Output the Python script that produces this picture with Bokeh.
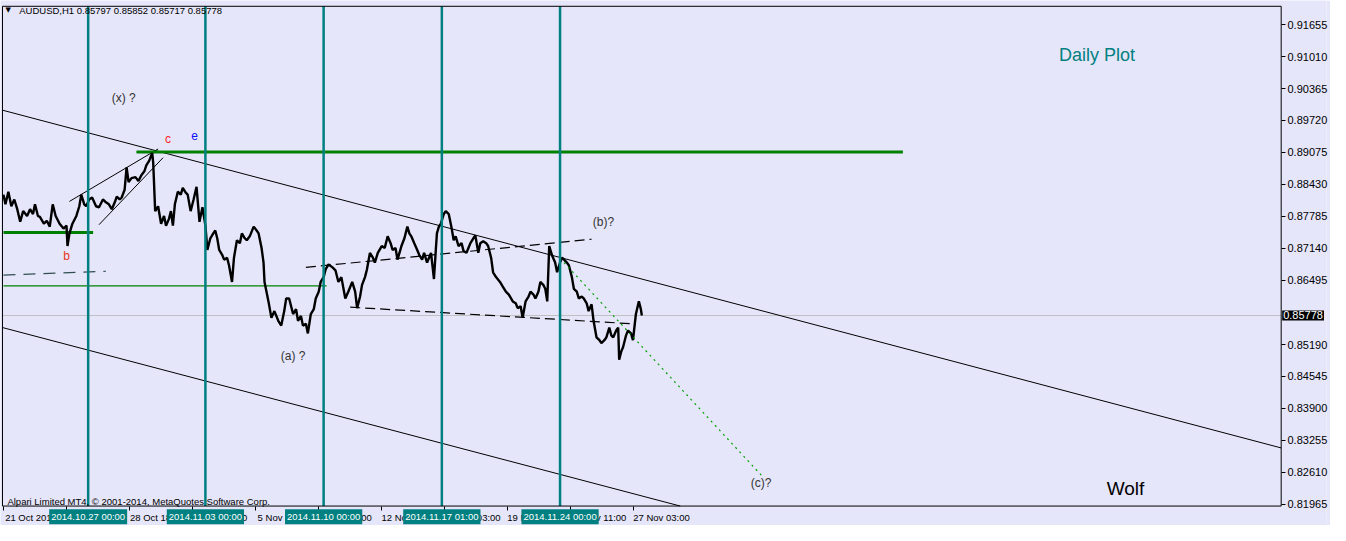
from bokeh.plotting import figure
from bokeh.models import Range1d, FixedTicker, Label, NumeralTickFormatter
from bokeh.embed import file_html
from bokeh.resources import INLINE

# ---------------- data ----------------
bars = [0, 2, 5, 8, 11, 14, 17, 20, 24, 27, 30, 32, 35, 37, 41, 44, 47, 50, 53, 57,
        61, 64, 65, 67, 70, 74, 77, 79, 82, 84, 87, 90, 94, 97, 101, 104, 107, 110, 113, 115,
        118, 120, 123, 125, 127, 130, 134, 137, 140, 143, 145, 148, 151, 152, 154, 157, 160, 163, 165, 168,
        170, 172, 174, 177, 180, 182, 185, 187, 190, 193, 196, 199, 202, 205, 207, 210, 213, 215, 217, 219,
        222, 224, 227, 229, 232, 234, 237, 240, 242, 245, 247, 250, 254, 257, 259, 262, 264, 265, 267, 269,
        272, 275, 279, 282, 285, 287, 290, 292, 294, 297, 299, 302, 304, 307, 309, 312, 315, 317, 320, 322,
        325, 327, 330, 334, 337, 340, 343, 347, 350, 354, 357, 359, 362, 364, 367, 369, 372, 375, 377, 380,
        384, 387, 390, 393, 395, 398, 400, 402, 404, 407, 410, 412, 414, 417, 420, 422, 425, 427, 430, 432,
        434, 437, 439, 440, 442, 444, 447, 449, 452, 455, 457, 459, 462, 465, 467, 470, 472, 474, 477, 479,
        482, 484, 487, 490, 492, 495, 497, 500, 504, 507, 510, 513, 517, 520, 522, 525, 527, 530, 533, 535,
        538, 540, 543, 545, 548, 550, 552, 554, 557, 560, 562, 565, 567, 569, 572, 574, 577, 579, 582, 584,
        587, 589, 592, 594, 597, 599, 602, 605, 607, 610, 612, 615, 617, 619, 622, 624, 625, 627, 629, 632,
        634, 637, 639, 642, 645, 647, 648]
closes = [0.88221, 0.88025, 0.88280, 0.87986, 0.88123, 0.87927, 0.87672, 0.87888, 0.87790, 0.87927,
          0.87829, 0.88025, 0.87790, 0.87770, 0.87633, 0.87692, 0.87574, 0.88025, 0.87790, 0.87633,
          0.87535, 0.87594, 0.87182, 0.87437, 0.87633, 0.87790, 0.87986, 0.88221, 0.88025, 0.87986,
          0.88123, 0.88163, 0.87986, 0.87966, 0.88123, 0.88065, 0.88025, 0.87927, 0.88065, 0.88182,
          0.88123, 0.88163, 0.88320, 0.88771, 0.88477, 0.88555, 0.88575, 0.88496, 0.88614, 0.88692,
          0.88810, 0.88908, 0.89065, 0.88869, 0.87888, 0.87986, 0.87633, 0.87790, 0.87594, 0.87731,
          0.87888, 0.87594, 0.88025, 0.88280, 0.88221, 0.88359, 0.88261, 0.88221, 0.87888, 0.88123,
          0.88378, 0.87672, 0.87966, 0.87594, 0.87103, 0.87339, 0.87437, 0.87496, 0.87339, 0.87103,
          0.87005, 0.86907, 0.86946, 0.86789, 0.86456, 0.86946, 0.87299, 0.87240, 0.87437, 0.87339,
          0.87299, 0.87378, 0.87574, 0.87496, 0.87437, 0.87142, 0.86848, 0.86456, 0.86259, 0.86063,
          0.85730, 0.85867, 0.85671, 0.85573, 0.85867, 0.86122, 0.86122, 0.85965, 0.85808, 0.85906,
          0.85671, 0.85769, 0.85573, 0.85612, 0.85416, 0.85808, 0.85906, 0.86122, 0.86259, 0.86456,
          0.86554, 0.86711, 0.86809, 0.86750, 0.86691, 0.86456, 0.86554, 0.86122, 0.86259, 0.86456,
          0.86259, 0.85926, 0.86161, 0.86397, 0.86554, 0.86711, 0.87044, 0.86946, 0.86848, 0.87044,
          0.87182, 0.87142, 0.87378, 0.87240, 0.87103, 0.87142, 0.86907, 0.87044, 0.87182, 0.87339,
          0.87574, 0.87437, 0.87378, 0.87240, 0.87103, 0.87005, 0.86907, 0.87044, 0.86848, 0.86946,
          0.87044, 0.86515, 0.87142, 0.87437, 0.87574, 0.87633, 0.87829, 0.87888, 0.87829, 0.87535,
          0.87299, 0.87378, 0.87182, 0.87240, 0.87084, 0.87044, 0.87142, 0.87240, 0.87339, 0.87397,
          0.87044, 0.87240, 0.87280, 0.87240, 0.87182, 0.86946, 0.86652, 0.86554, 0.86456, 0.86358,
          0.86259, 0.86201, 0.86063, 0.86024, 0.85926, 0.85965, 0.85730, 0.86063, 0.86161, 0.86259,
          0.86201, 0.86122, 0.86259, 0.86456, 0.86397, 0.86318, 0.86063, 0.87182, 0.86985, 0.86848,
          0.86652, 0.86848, 0.86946, 0.86907, 0.86848, 0.86789, 0.86554, 0.86318, 0.86259, 0.86122,
          0.86161, 0.86122, 0.86024, 0.85867, 0.86004, 0.85671, 0.85337, 0.85278, 0.85220, 0.85278,
          0.85337, 0.85534, 0.85377, 0.85337, 0.85475, 0.85534, 0.84886, 0.85043, 0.85141, 0.85377,
          0.85475, 0.85416, 0.85278, 0.85808, 0.86063, 0.85906, 0.85778]

last_price = 0.85778
header_text = "AUDUSD,H1  0.85797 0.85852 0.85717 0.85778"
footer_text = "Alpari Limited MT4, \u00a9 2001-2014, MetaQuotes Software Corp."

price_ticks = [0.81965, 0.82610, 0.83255, 0.83900, 0.84545, 0.85190, 0.86495, 0.87140,
               0.87785, 0.88430, 0.89075, 0.89720, 0.90365, 0.91010, 0.91655]

date_tick_bars = [0, 64, 128, 192, 256, 320, 384, 448, 512, 576, 640]
date_tick_labels = ["21 Oct 2014", "24 Oct 02:00", "28 Oct 18:00", "31 Oct 10:00", "5 Nov 03:00",
                    "7 Nov 19:00", "12 Nov 11:00", "17 Nov 03:00", "19 Nov 19:00", "24 Nov 11:00",
                    "27 Nov 03:00"]

vline_bars = [86, 205, 325, 445, 565]
vline_labels = ["2014.10.27 00:00", "2014.11.03 00:00", "2014.11.10 00:00",
                "2014.11.17 01:00", "2014.11.24 00:00"]

# chart window of the terminal (bars / price)
win_left, win_right = -1, 1297
win_bottom, win_top = 0.81926, 0.92028

# trend / channel lines: (x0, y0, x1, y1)
channel_upper = [-1, 0.89928, 1297, 0.83101]
channel_lower = [-1, 0.85534, 687, 0.81926]
wedge_upper = [67, 0.88084, 157, 0.89144]
wedge_lower = [97, 0.87613, 162, 0.88967]
flag_upper = [307, 0.86750, 597, 0.87319]
flag_lower = [352, 0.85946, 637, 0.85612]
gray_dash = [0, 0.86593, 104, 0.86672]
target_dotted = [569, 0.86848, 772, 0.82492]

level_thick_top = [135, 913, 0.89085]
level_thick_left = [0, 91, 0.87456]
level_thin = [0, 328, 0.86377]

# ---------------- styling ----------------
BG = "#E6E6FA"
TEAL = "#008080"
GREEN = "#008000"
FONT = "Liberation Sans"

p = figure(width=1330, height=525, output_backend="svg", toolbar_location=None,
           x_range=Range1d(-3, 1343), y_range=Range1d(0.81533, 0.92145),
           x_axis_location="below", y_axis_location="right",
           background_fill_color=BG, border_fill_color=BG,
           min_border=0, min_border_left=0, min_border_top=0, min_border_bottom=0, min_border_right=0)
p.grid.visible = False
p.outline_line_color = None

# price axis (drawn into the terminal's price strip)
ya = p.yaxis[0]
ya.ticker = FixedTicker(ticks=price_ticks)
ya.formatter = NumeralTickFormatter(format="0.00000")
ya.major_label_text_font = FONT
ya.major_label_text_font_size = "11px"
ya.major_label_text_color = "black"
ya.major_tick_in = 45
ya.major_tick_out = -41
ya.minor_tick_in = 0
ya.minor_tick_out = -41
ya.major_tick_line_color = "black"
ya.minor_tick_line_color = None
ya.major_label_standoff = -39
ya.axis_line_color = None

# time axis (drawn into the terminal's time strip)
xa = p.xaxis[0]
centers = [t + 28 for t in date_tick_bars]
xa.ticker = FixedTicker(ticks=centers, minor_ticks=date_tick_bars)
xa.major_label_overrides = {c: lab for c, lab in zip(centers, date_tick_labels)}
xa.major_tick_line_color = None
xa.major_tick_out = 0
xa.major_tick_in = 0
xa.minor_tick_in = 19
xa.minor_tick_out = -15
xa.minor_tick_line_color = "black"
xa.major_label_standoff = -14
xa.major_label_text_font = FONT
xa.major_label_text_font_size = "9.5px"
xa.major_label_text_color = "black"
xa.axis_line_color = None

def seg(l, **kw):
    p.segment(x0=[l[0]], y0=[l[1]], x1=[l[2]], y1=[l[3]], **kw)

# current price line
p.segment(x0=[win_left], x1=[win_right], y0=[last_price], y1=[last_price], line_color="#C0C0C0", line_width=1)

seg(channel_upper, line_color="black", line_width=1)
seg(channel_lower, line_color="black", line_width=1)
seg(wedge_upper, line_color="black", line_width=1)
seg(wedge_lower, line_color="black", line_width=1)
seg(flag_upper, line_color="black", line_width=1.2, line_dash="10 5")
seg(flag_lower, line_color="black", line_width=1.2, line_dash="10 5")
seg(gray_dash, line_color="#2F4F4F", line_width=1.2, line_dash="12 8")

p.segment(x0=[level_thick_top[0]], x1=[level_thick_top[1]], y0=[level_thick_top[2]], y1=[level_thick_top[2]],
          line_color=GREEN, line_width=3)
p.segment(x0=[level_thick_left[0]], x1=[level_thick_left[1]], y0=[level_thick_left[2]], y1=[level_thick_left[2]],
          line_color=GREEN, line_width=3)
p.segment(x0=[level_thin[0]], x1=[level_thin[1]], y0=[level_thin[2]], y1=[level_thin[2]],
          line_color=GREEN, line_width=1.3)

p.line(bars, closes, line_color="black", line_width=2.4)

seg(target_dotted, line_color="#00A000", line_width=1.2, line_dash="2 4")

# vertical teal lines
p.segment(x0=vline_bars, x1=vline_bars, y0=[win_bottom] * len(vline_bars), y1=[win_top] * len(vline_bars),
          line_color=TEAL, line_width=2.5)

# window border
p.segment(x0=[win_left, win_left, win_right, win_left], x1=[win_left, win_right, win_right, win_right],
          y0=[win_bottom, win_top, win_bottom, win_bottom], y1=[win_top, win_top, win_top, win_bottom],
          line_color="black", line_width=1)

# teal time stamps of the vertical lines
for b, txt in zip(vline_bars, vline_labels):
    p.add_layout(Label(x=b, y=0.81712, text=txt, text_align="center", text_baseline="middle",
                       text_color="white", text_font=FONT, text_font_size="9.5px",
                       background_fill_color=TEAL, padding=2))

# current price box on the price strip
p.add_layout(Label(x=win_right, y=last_price, x_offset=1, text="%.5f" % last_price, text_align="left",
                   text_baseline="middle", text_color="white", text_font=FONT, text_font_size="11px",
                   background_fill_color="black", padding=1))

p.add_layout(Label(x=2, y=0.91949, text="\u25bc", text_align="left", text_baseline="middle",
                   text_color="black", text_font="DejaVu Sans", text_font_size="7px"))
p.add_layout(Label(x=16, y=0.91949, text=header_text, text_align="left", text_baseline="middle",
                   text_color="black", text_font=FONT, text_font_size="9.5px"))
p.add_layout(Label(x=4, y=0.82022, text=footer_text, text_align="left", text_baseline="middle",
                   text_color="black", text_font=FONT, text_font_size="9.5px"))

def ann(x, y, t, color, size="12px"):
    p.add_layout(Label(x=x, y=y, text=t, text_align="center", text_baseline="middle",
                       text_color=color, text_font=FONT, text_font_size=size))

ann(122, 0.90184, "(x) ?", "#333333")
ann(167, 0.89340, "c", "#FF2020")
ann(194, 0.89418, "e", "#1010FF")
ann(64, 0.86985, "b", "#E83020")
ann(294, 0.84965, "(a) ?", "#333333")
ann(609, 0.87672, "(b)?", "#333333")
ann(769, 0.82394, "(c)?", "#333333")
ann(1110, 0.91047, "Daily Plot", TEAL, "18px")
ann(1139, 0.82277, "Wolf", "black", "19px")

open("out.html", "w").write(file_html(p, INLINE))
